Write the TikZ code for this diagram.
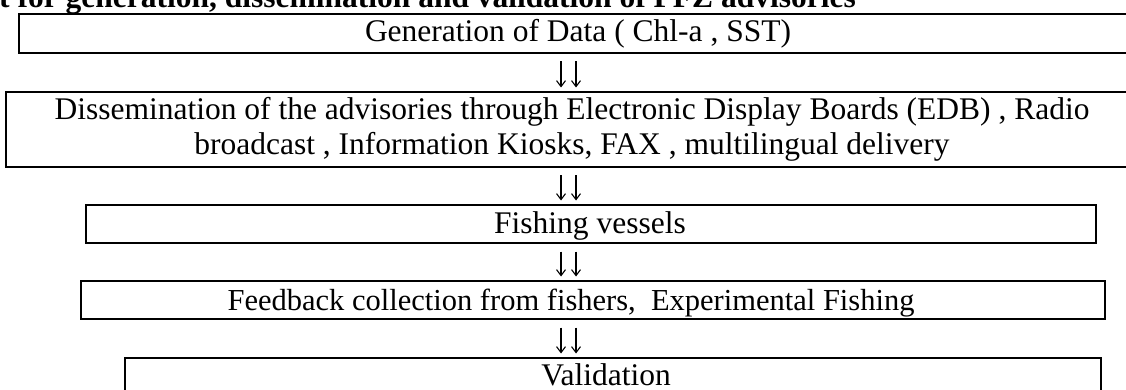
\documentclass[tikz,border=0pt]{standalone}
\usepackage{fontspec}
\setmainfont{Liberation Serif}
\usetikzlibrary{arrows.meta}
\begin{document}
\begin{tikzpicture}[x=1pt,y=-1pt,
    box/.style={draw,line width=2pt,inner sep=0pt,anchor=north west},
    txt/.style={anchor=base,inner sep=0pt,font=\fontsize{31.5}{35}\selectfont},
    darr/.style={-{Straight Barb[length=6pt,width=9pt]},line width=1.1pt,shorten <=7.5pt,shorten >=3.5pt}]
\useasboundingbox (0,0) rectangle (1126,390);
% title line, cut at the top
\node[txt,anchor=base west,font=\bfseries\fontsize{31.5}{35}\selectfont] (title) at (-1,8) {t for generation, dissemination and validation of PFZ advisories};
% boxes
\node[box,minimum width=1122pt,minimum height=39pt] (gen) at (18,13) {};
\node[box,minimum width=1135pt,minimum height=75pt] (diss) at (5,91) {};
\node[box,minimum width=1010pt,minimum height=38pt] (fish) at (85,204) {};
\node[box,minimum width=1024pt,minimum height=38pt] (feed) at (80,280) {};
\node[box,minimum width=976pt,minimum height=50pt] (valid) at (124,357) {};
% texts
\node[txt] (gentext) at (578,42) {Generation of Data ( Chl-a , SST)};
\node[txt,align=center] (disstext) at (572,155) {Dissemination of the advisories through Electronic Display Boards (EDB) , Radio\\ broadcast , Information Kiosks, FAX , multilingual delivery};
\node[txt] (fishtext) at (590,233) {Fishing vessels};
\node[txt,font=\fontsize{30.5}{35}\selectfont] (feedtext) at (571,310) {Feedback collection from fishers,\ \ Experimental Fishing};
\node[txt] (validtext) at (606,385) {Validation};
% double arrows
\coordinate (axl) at (561,0);
\coordinate (axr) at (576,0);
\foreach \up/\dn in {gen/diss,diss/fish,fish/feed,feed/valid}
{
    \foreach \ax in {axl,axr}
    {
        \draw[darr] (\up.south -| \ax)--(\dn.north -| \ax);
    }
}
\end{tikzpicture}
\end{document}
